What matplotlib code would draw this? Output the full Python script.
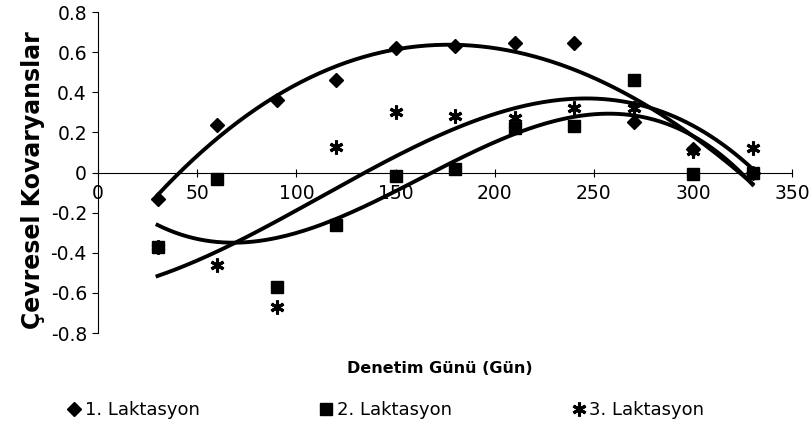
import numpy as np
import matplotlib
matplotlib.use("Agg")
import matplotlib.pyplot as plt
from matplotlib.lines import Line2D

plt.rcParams['font.family'] = ['DejaVu Sans']

days = [30, 60, 90, 120, 150, 180, 210, 240, 270, 300, 330]
lakt1 = [-0.13, 0.235, 0.36, 0.46, 0.62, 0.63, 0.645, 0.645, 0.25, 0.12, 0.00]
lakt2 = [-0.37, -0.03, -0.57, -0.26, -0.015, 0.02, 0.22, 0.23, 0.46, -0.005, 0.00]
lakt3 = [-0.37, -0.46, -0.67, 0.13, 0.30, 0.28, 0.27, 0.32, 0.32, 0.11, 0.125]
labels = ["1. Laktasyon", "2. Laktasyon", "3. Laktasyon"]
xticks = [0, 50, 100, 150, 200, 250, 300, 350]
yticks = [-0.8, -0.6, -0.4, -0.2, 0, 0.2, 0.4, 0.6, 0.8]
xlabel = "Denetim Günü (Gün)"
ylabel = "Çevresel Kovaryanslar"

star = (6, 2, 0)
markers = ['D', 's', star]
sizes = [7.5, 9, 10]

fig = plt.figure(figsize=(8.1, 4.32), dpi=100)
ax = fig.add_axes([0.121, 0.229, 0.857, 0.743])

ax.spines['top'].set_visible(False)
ax.spines['right'].set_visible(False)
ax.spines['bottom'].set_position(('data', 0))
ax.spines['bottom'].set_linewidth(0.8)
ax.spines['left'].set_linewidth(0.8)

x = np.array(days, dtype=float)
xs = np.linspace(30, 330, 200)
for ys, m, s in zip([lakt1, lakt2, lakt3], markers, sizes):
    ax.plot(days, ys, linestyle='none', marker=m, ms=s, color='black',
            markeredgewidth=2.2 if m == star else 1, zorder=3)
    coef = np.polyfit(x, np.array(ys), 3)
    ax.plot(xs, np.polyval(coef, xs), color='black', lw=2.8, zorder=2)

ax.set_xlim(0, 350)
ax.set_ylim(-0.8, 0.8)
ax.set_xticks(xticks)
ax.set_yticks(yticks)
ax.set_xticklabels([str(t) for t in xticks])
ax.set_yticklabels(['0' if t == 0 else f"{t:.1f}" for t in yticks])
ax.tick_params(axis='x', direction='inout', length=6, pad=5, labelsize=13.5)
ax.tick_params(axis='y', direction='out', length=4, pad=4, labelsize=13.5)

fig.text(0.041, 0.583, ylabel, rotation=90, fontsize=17, fontweight='bold',
         ha='center', va='center')
fig.text(0.543, 0.148, xlabel, fontsize=11.5, fontweight='bold',
         ha='center', va='center')

handles = [Line2D([], [], linestyle='none', marker=m, ms=s, color='black',
                  markeredgewidth=2.2 if m == star else 1)
           for m, s in zip(markers, sizes)]
fig.legend(handles, labels, loc='center', bbox_to_anchor=(0.475, 0.051), ncol=3,
           frameon=False, fontsize=13, handletextpad=0.1, columnspacing=6.5,
           handlelength=1.0)

fig.savefig("out.png", dpi=100)
